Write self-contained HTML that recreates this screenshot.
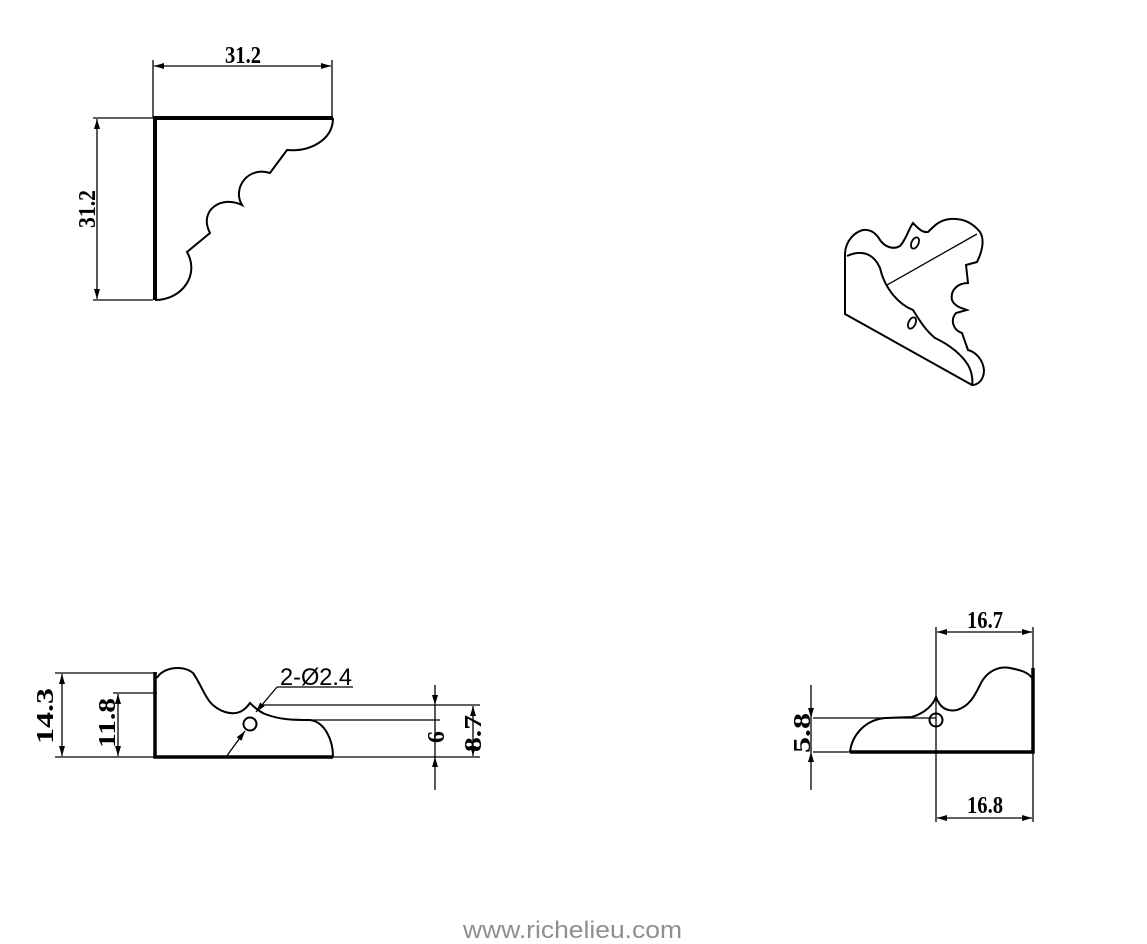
<!DOCTYPE html>
<html><head><meta charset="utf-8">
<style>
html,body{margin:0;padding:0;background:#fff;}
svg{display:block;}
.t{font-family:"Liberation Serif",serif;font-size:24px;font-weight:bold;fill:#000;}
.ts{font-family:"Liberation Sans",sans-serif;font-size:24px;fill:#000;}
</style></head><body>
<svg width="1147" height="944" viewBox="0 0 1147 944" xmlns="http://www.w3.org/2000/svg">
<defs>
<marker id="a" viewBox="0 0 10 6" refX="10" refY="3" markerWidth="10" markerHeight="6" orient="auto-start-reverse" markerUnits="userSpaceOnUse">
<path d="M0,0 L10,3 L0,6 z" fill="#000"/></marker>
</defs>
<g fill="none" stroke="#000" stroke-width="1.3">
<!-- Top-left view -->
<line x1="153" y1="60" x2="153" y2="118"/>
<line x1="332" y1="60" x2="332" y2="118"/>
<line x1="154" y1="66" x2="331" y2="66" marker-start="url(#a)" marker-end="url(#a)"/>
<line x1="93" y1="118" x2="153" y2="118"/>
<line x1="93" y1="300" x2="153" y2="300"/>
<line x1="97" y1="119" x2="97" y2="299" marker-start="url(#a)" marker-end="url(#a)"/>
<path d="M153,118 L333,118" stroke-width="4"/>
<path d="M155,118 L155,300" stroke-width="4"/>
<path d="M333,118 C333,140 310,152 287,150 L270,173 C248,166 232,188 242,205 C222,195 198,210 210,233 L187,252 C200,275 182,300 155,300" stroke-width="2"/>

<!-- 3D view -->
<path d="M845,253 C846,240 855,232 863,230 C870,229 876,233 880,240 C885,247 893,250 900,246 C906,240 909,228 913,223 C918,228 922,233 928,232 C935,225 940,220 950,219 C962,218 972,222 980,232 C985,240 982,252 977,262 L966,265 L968,283 C958,283 950,290 952,300 C955,307 962,308 967,310 L956,313 C950,320 953,330 962,333 L968,350 C976,352 983,360 984,370 C984,380 978,385 972,385 L845,314 Z" stroke-width="2"/>
<path d="M847,256 C860,250 873,252 880,268 C885,290 900,305 913,310 C918,318 925,330 935,338 C950,345 962,355 968,365 C972,372 973,380 972,385" stroke-width="2"/>
<line x1="887" y1="285" x2="977" y2="234"/>
<ellipse cx="915" cy="243" rx="3.5" ry="6" transform="rotate(25 915 243)" stroke-width="1.8"/>
<ellipse cx="912" cy="323" rx="3.5" ry="6" transform="rotate(25 912 323)" stroke-width="1.8"/>

<!-- Bottom-left view -->
<line x1="55" y1="673" x2="157" y2="673"/>
<line x1="55" y1="757" x2="480" y2="757"/>
<line x1="113" y1="693" x2="157" y2="693"/>
<line x1="62" y1="674" x2="62" y2="756" marker-start="url(#a)" marker-end="url(#a)"/>
<line x1="118" y1="694" x2="118" y2="756" marker-start="url(#a)" marker-end="url(#a)"/>
<path d="M155,672 L155,757 L333,757" stroke-width="3.5"/>
<path d="M157,678 C162,668 182,664 193,673 C205,690 205,705 225,712 C238,716 245,710 250,703 C255,708 260,712 265,714 C280,720 295,720 310,720 C325,722 333,740 333,757" stroke-width="2"/>
<circle cx="250" cy="724" r="6.5" stroke-width="2"/>
<line x1="226" y1="757" x2="245" y2="731" marker-end="url(#a)"/>
<line x1="277" y1="687" x2="256" y2="712" marker-end="url(#a)"/>
<line x1="277" y1="687" x2="353" y2="687"/>
<line x1="263" y1="705" x2="480" y2="705"/>
<line x1="310" y1="720" x2="440" y2="720"/>
<line x1="435" y1="685" x2="435" y2="705" marker-end="url(#a)"/>
<line x1="435" y1="705" x2="435" y2="757"/>
<line x1="435" y1="790" x2="435" y2="757" marker-end="url(#a)"/>
<line x1="473" y1="706" x2="473" y2="756" marker-start="url(#a)" marker-end="url(#a)"/>

<!-- Bottom-right view -->
<line x1="936" y1="627" x2="936" y2="822"/>
<line x1="1033" y1="627" x2="1033" y2="670"/>
<line x1="1033" y1="750" x2="1033" y2="822"/>
<line x1="937" y1="632" x2="1032" y2="632" marker-start="url(#a)" marker-end="url(#a)"/>
<line x1="937" y1="818" x2="1032" y2="818" marker-start="url(#a)" marker-end="url(#a)"/>
<path d="M850,752 L1033,752 L1033,668" stroke-width="3.5"/>
<path d="M850,752 C852,735 865,720 885,718 L912,717 C925,713 933,705 936,697 C940,708 947,712 957,710 C970,706 975,695 980,685 C987,670 1000,666 1010,668 C1020,670 1028,672 1032,678" stroke-width="2"/>
<circle cx="936" cy="720" r="6.5" stroke-width="2"/>
<line x1="813" y1="718" x2="936" y2="718"/>
<line x1="813" y1="752" x2="850" y2="752"/>
<line x1="811" y1="685" x2="811" y2="718" marker-end="url(#a)"/>
<line x1="811" y1="718" x2="811" y2="752"/>
<line x1="811" y1="790" x2="811" y2="752" marker-end="url(#a)"/>
</g>

<!-- labels -->
<text class="t" x="225" y="63" textLength="36" lengthAdjust="spacingAndGlyphs">31.2</text>
<text class="t" transform="translate(95 228) rotate(-90)" textLength="38" lengthAdjust="spacingAndGlyphs">31.2</text>
<text class="t" transform="translate(53 744) rotate(-90)" textLength="56" lengthAdjust="spacingAndGlyphs">14.3</text>
<text class="t" transform="translate(115 748) rotate(-90)" textLength="50" lengthAdjust="spacingAndGlyphs">11.8</text>
<text class="ts" x="280" y="685" textLength="72" lengthAdjust="spacingAndGlyphs">2-Ø2.4</text>
<text class="t" transform="translate(444 743) rotate(-90)" textLength="12" lengthAdjust="spacingAndGlyphs">6</text>
<text class="t" transform="translate(481 752) rotate(-90)" textLength="37" lengthAdjust="spacingAndGlyphs">8.7</text>
<text class="t" x="967" y="628" textLength="36" lengthAdjust="spacingAndGlyphs">16.7</text>
<text class="t" x="967" y="813" textLength="36" lengthAdjust="spacingAndGlyphs">16.8</text>
<text class="t" transform="translate(810 753) rotate(-90)" textLength="40" lengthAdjust="spacingAndGlyphs">5.8</text>
<text x="463" y="938" font-family="Liberation Sans, sans-serif" font-size="24" fill="#8f8f8f" textLength="219" lengthAdjust="spacingAndGlyphs">www.richelieu.com</text>
</svg>
</body></html>
